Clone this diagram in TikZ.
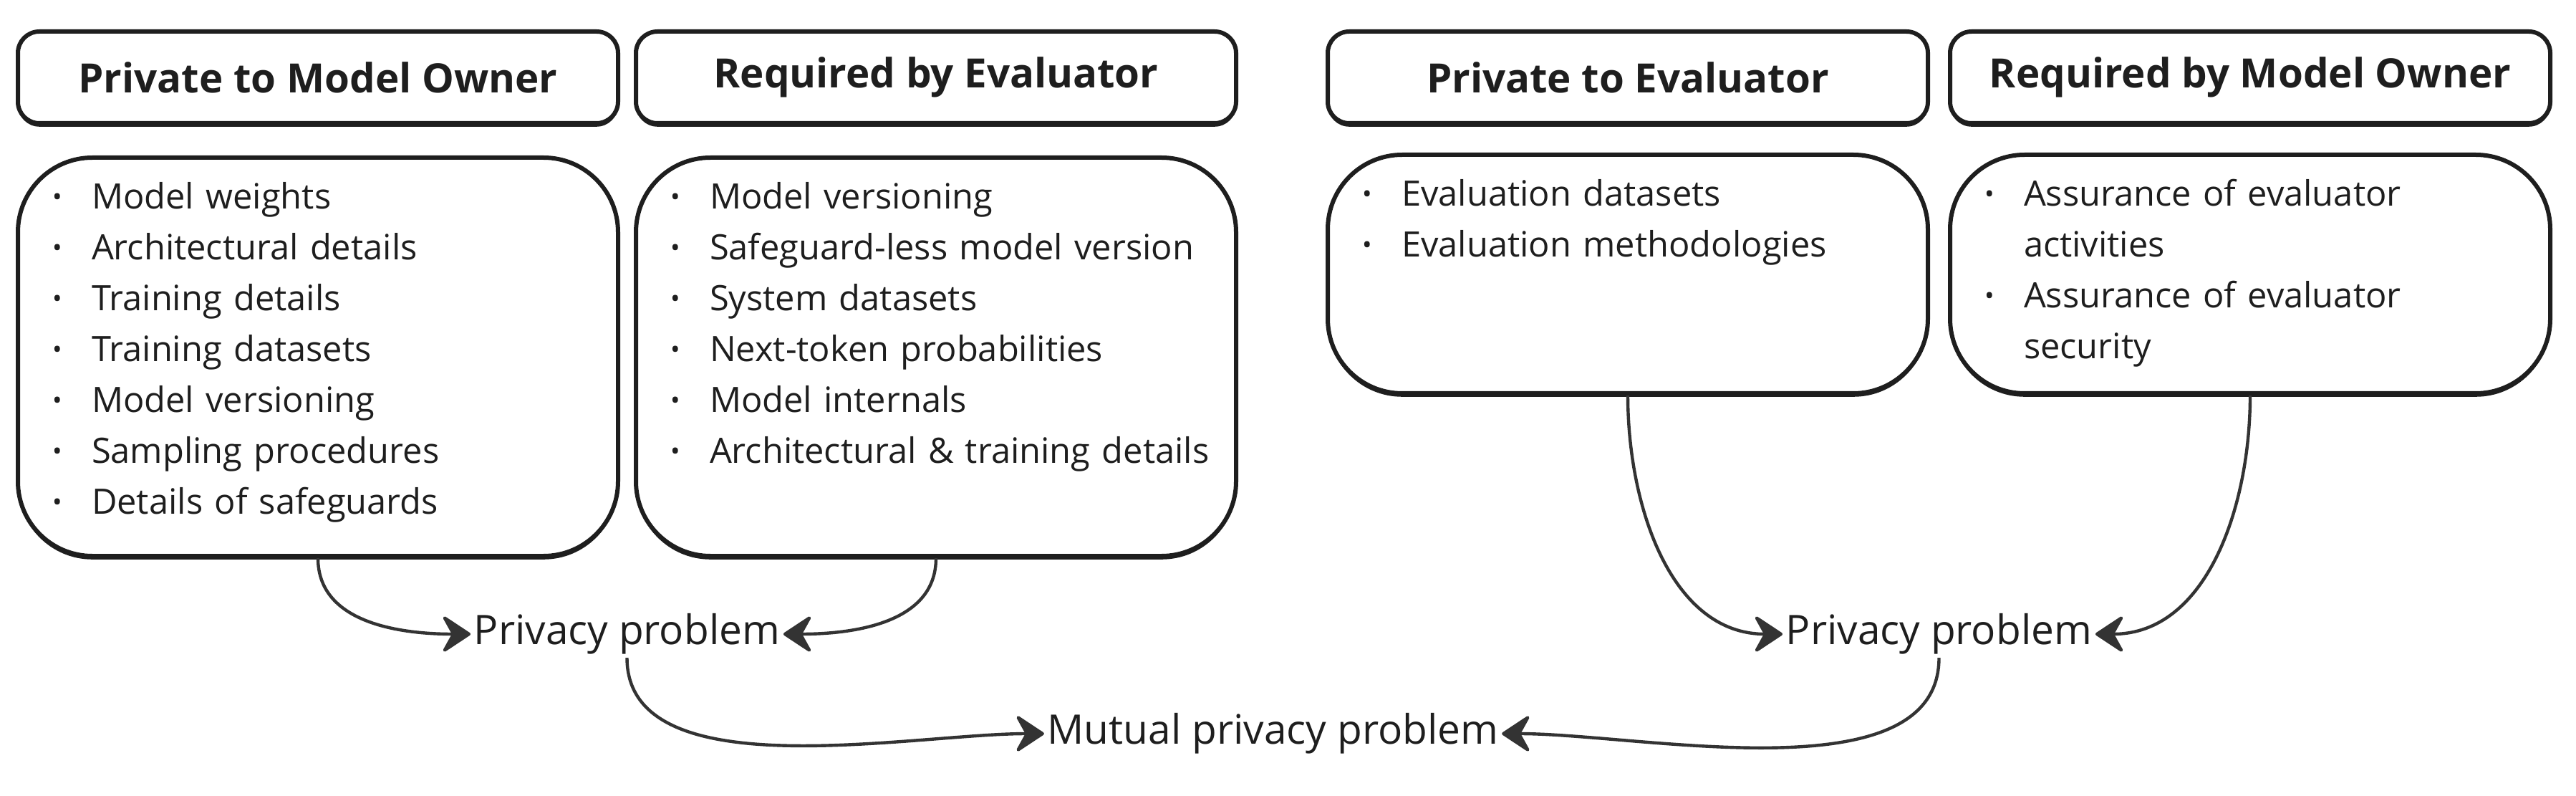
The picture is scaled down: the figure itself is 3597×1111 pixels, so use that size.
\documentclass[tikz,border=0pt]{standalone}
\usepackage{fontspec}
\setmainfont{Open Sans}
\usetikzlibrary{calc, positioning, arrows.meta, shadows}
\definecolor{ink}{HTML}{1E1E1E}
\definecolor{wire}{HTML}{333333}
\newcommand{\bitem}[1]{\noindent\hyphenpenalty=10000\leftskip=11pt\rightskip=0pt plus 1fil\hangindent=13.75pt\hangafter=1\makebox[13.75pt][l]{\raisebox{0.1em}{\fontsize{9pt}{9pt}\selectfont\textbullet}}#1\par}

\begin{document}
\begin{tikzpicture}
              [x=0.25pt, y=-0.25pt,
               head/.style={draw=ink, line width=1.5pt, rounded corners=7.5pt, fill=white,
                 drop shadow={shadow xshift=0pt, shadow yshift=-1.2pt, fill=ink, opacity=1},
                 minimum width=209.5pt, minimum height=32pt, inner sep=0pt, text=ink,
                 font=\bfseries\fontsize{14.1pt}{17pt}\selectfont},
               list/.style={draw=ink, line width=1.5pt, rounded corners=26pt, fill=white,
                 drop shadow={shadow xshift=0pt, shadow yshift=-1.2pt, fill=ink, opacity=1},
                 text width=207.5pt, inner xsep=1pt, inner ysep=0pt, text height=18pt,
                 align=left, text=ink, font=\fontsize{12.2pt}{17.75pt}\selectfont},
               prob/.style={inner sep=1pt, text=ink, font=\fontsize{14.2pt}{17pt}\selectfont},
               conn/.style={draw=wire, line width=1.1pt,
                 -{Stealth[length=11pt, width=14.5pt, inset=4pt, round]}}]
              \useasboundingbox (0,0) rectangle (3597,1111);

              % headers %
              \node[head] (pmo) at (444,108) {Private to Model Owner};
              \node[head, right=4.75pt of pmo] (rbe) {Required by Evaluator};
              \node[head, right=30.5pt of rbe] (pe) {Private to Evaluator};
              \node[head, right=6.25pt of pe] (rmo) {Required by Model Owner};

              % lists %
              \node[list, below=10.5pt of pmo, text depth=121pt] (pmol) {%
                \bitem{Model weights}
                \bitem{Architectural details}
                \bitem{Training details}
                \bitem{Training datasets}
                \bitem{Model versioning}
                \bitem{Sampling procedures}
                \bitem{Details of safeguards}};
              \node[list, below=10.5pt of rbe, text depth=121pt] (rbel) {%
                \bitem{Model versioning}
                \bitem{Safeguard-less model version}
                \bitem{System datasets}
                \bitem{Next-token probabilities}
                \bitem{Model internals}
                \bitem{Architectural \& training details}};
              \node[list, below=9.5pt of pe, text depth=65.25pt] (pel) {%
                \bitem{Evaluation datasets}
                \bitem{Evaluation methodologies}};
              \node[list, below=9.5pt of rmo, text depth=65.25pt] (rmol) {%
                \bitem{Assurance of evaluator\newline activities}
                \bitem{Assurance of evaluator\newline security}};

              % problems %
              \coordinate (m1) at ($(pmol.south)!0.5!(rbel.south)$);
              \coordinate (m2) at ($(pel.south)!0.5!(rmol.south)$);
              \node[prob] (pp1) at ($(m1)+(0,-26.5pt)$) {Privacy problem};
              \node[prob] (pp2) at (m2 |- pp1) {Privacy problem};
              \node[prob] (mpp) at ($(pp1)!0.5!(pp2)+(-3.5pt,-34.75pt)$) {Mutual privacy problem};

              % edges %
              \draw[conn] (pmol.south) to[out=-90, in=180] (pp1.west);
              \draw[conn] (rbel.south) to[out=-90, in=0] (pp1.east);
              \draw[conn] (pel.south) to[out=-90, in=180] (pp2.west);
              \draw[conn] (rmol.south) to[out=-90, in=0] (pp2.east);
              \draw[conn] (pp1.south) to[out=-90, in=180, looseness=0.8] (mpp.west);
              \draw[conn] (pp2.south) to[out=-90, in=0, looseness=0.8] (mpp.east);
            \end{tikzpicture}
\end{document}
